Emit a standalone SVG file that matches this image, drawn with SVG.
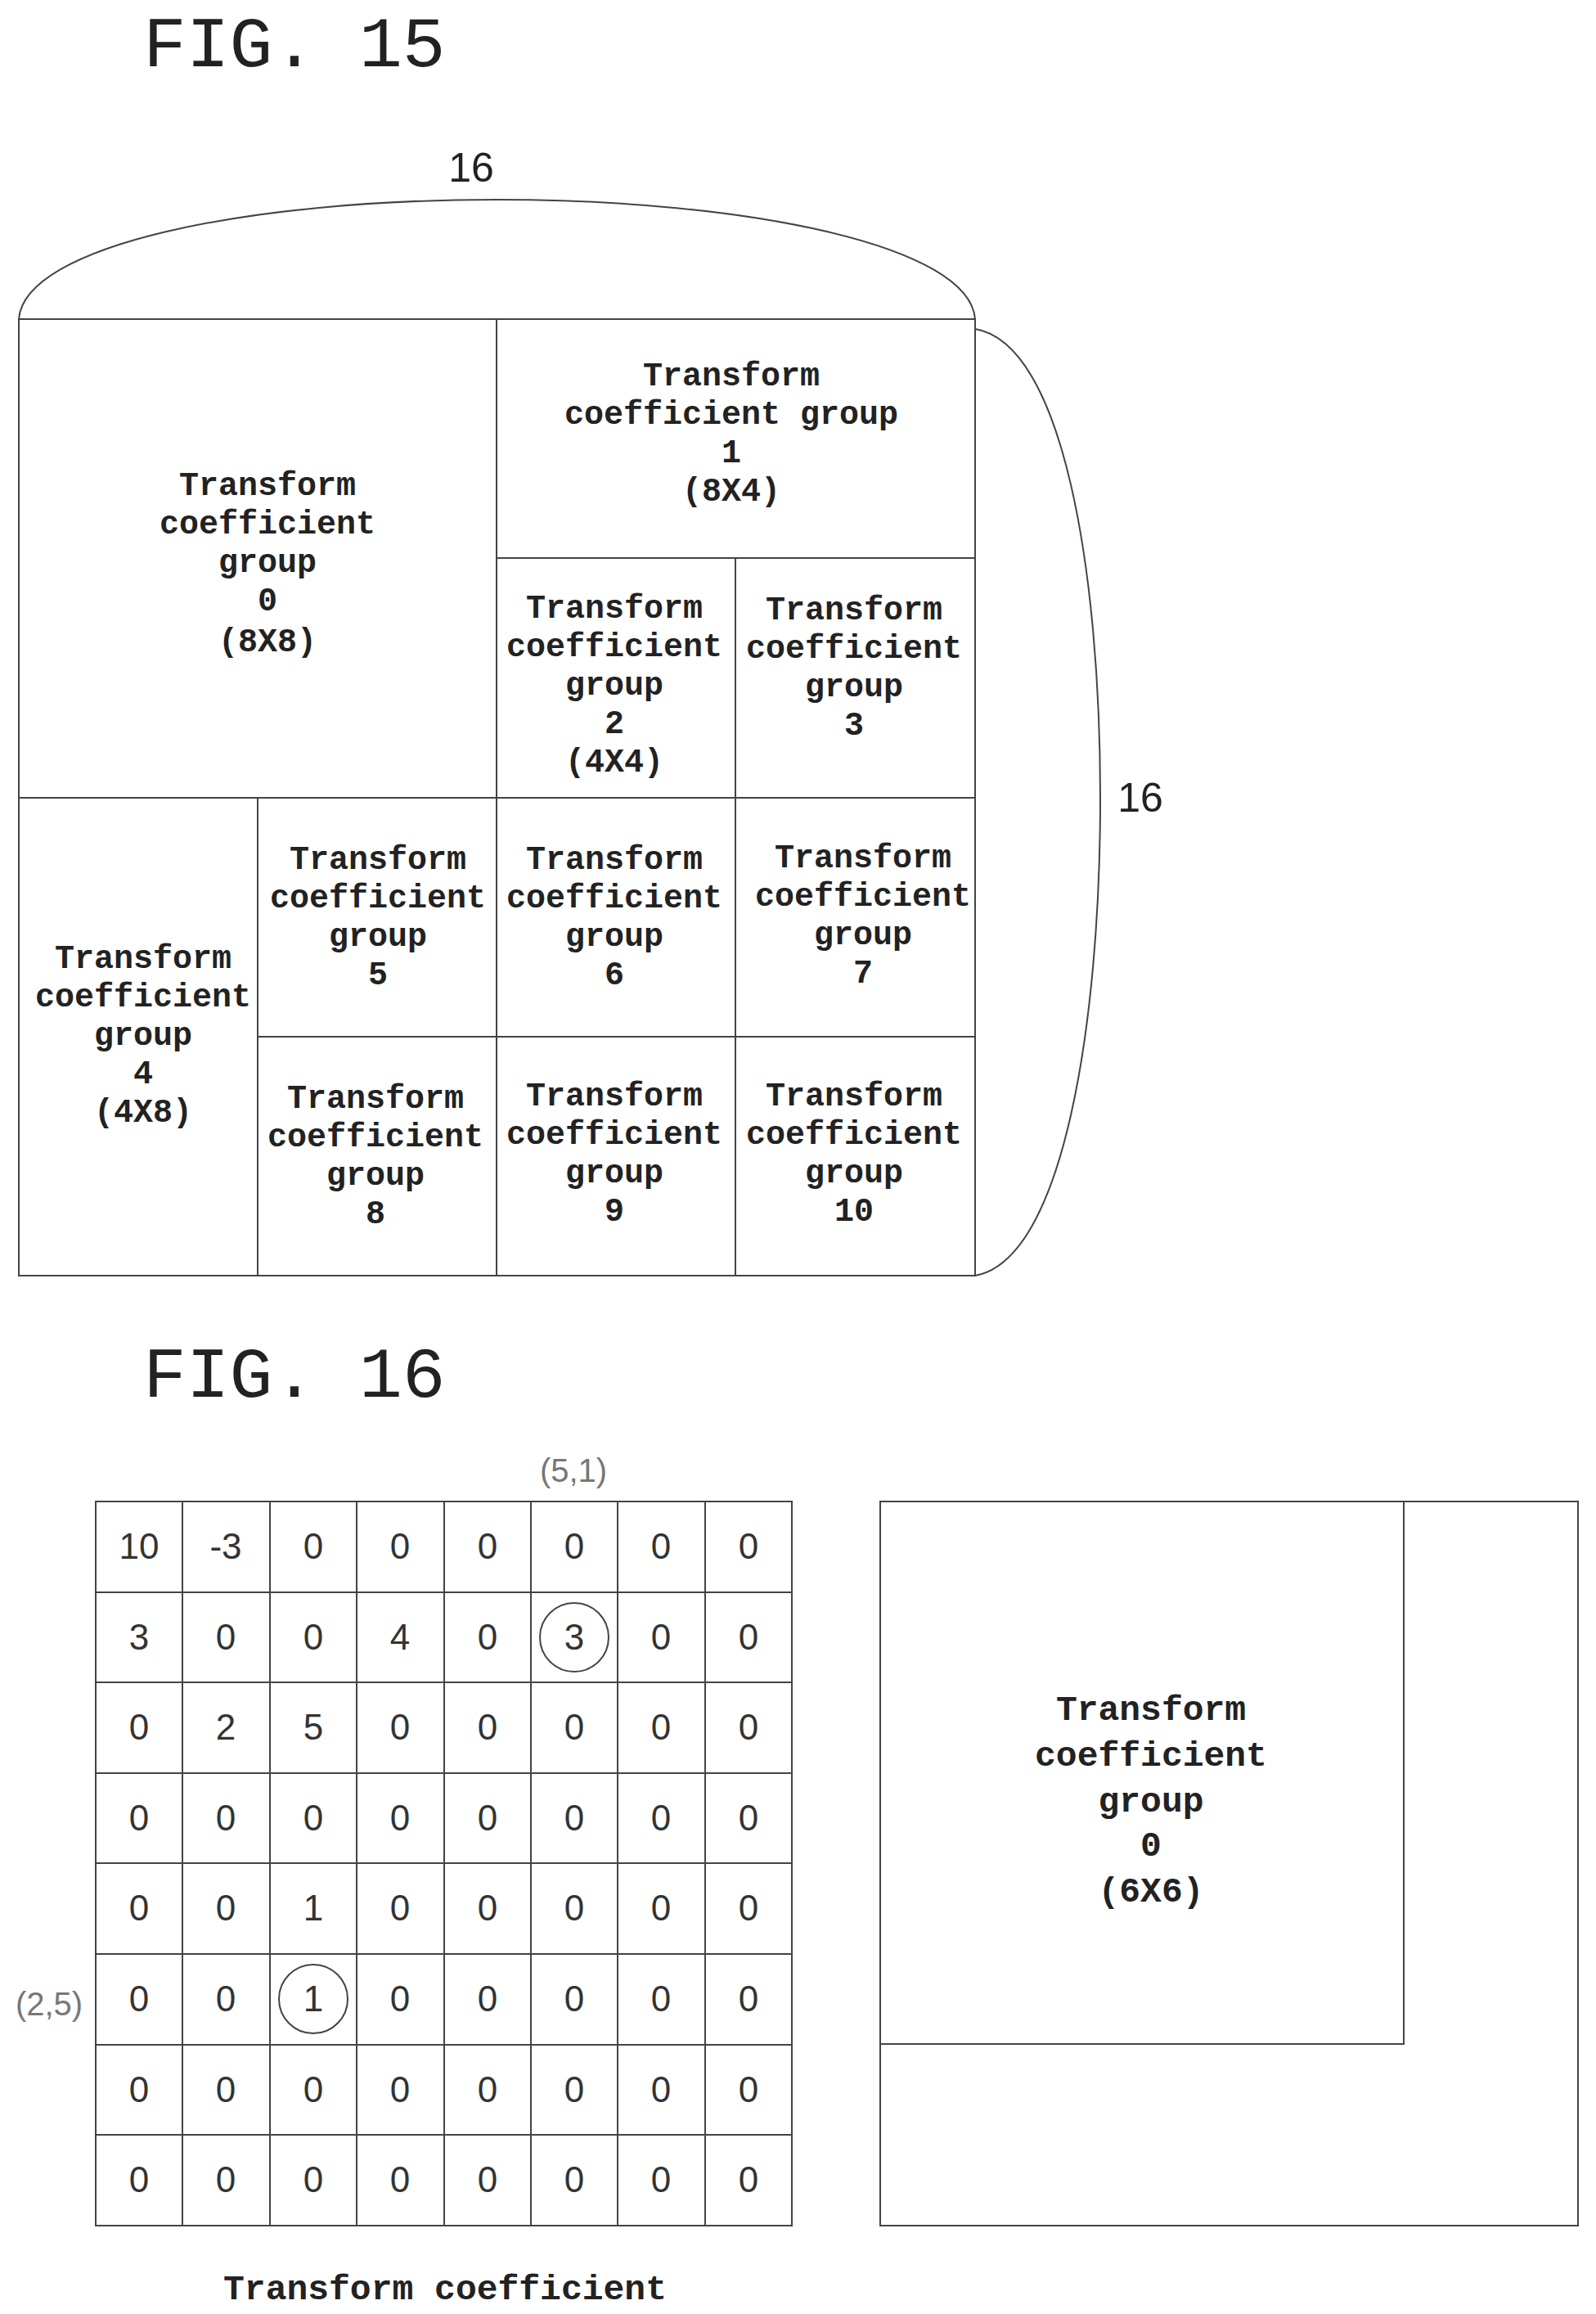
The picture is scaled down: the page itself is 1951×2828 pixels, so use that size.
<svg xmlns="http://www.w3.org/2000/svg" width="1951" height="2828" viewBox="0 0 1951 2828">
<style>
.bg{fill:#fff}
.ln{fill:none;stroke:#444;stroke-width:2}
.fig{font-family:"Liberation Mono",monospace;font-size:88px;fill:#222}
.t{font-family:"Liberation Mono",monospace;font-weight:bold;font-size:40px;fill:#222;text-anchor:middle}
.t2{font-family:"Liberation Mono",monospace;font-weight:bold;font-size:43px;fill:#222;text-anchor:middle}
.n{font-family:"Liberation Sans",sans-serif;font-size:44px;fill:#333;text-anchor:middle}
.lb{font-family:"Liberation Sans",sans-serif;font-size:40px;fill:#777;text-anchor:middle}
.dim{font-family:"Liberation Sans",sans-serif;font-size:50px;fill:#222;text-anchor:middle}
</style>
<rect class="bg" width="1951" height="2828"/>
<text class="fig" x="175" y="81">FIG. 15</text>
<g id="connectors">
<path class="ln" d="M23 390 C30 300, 300 244, 607 244 C914 244, 1185 300, 1192 390"/>
<path class="ln" d="M1192 402 C1300 420, 1345 700, 1345 975 C1345 1250, 1300 1540, 1192 1559"/>
</g>
<text class="dim" x="576" y="222">16</text>
<text class="dim" x="1394" y="992">16</text>
<g id="g0"><rect class="ln" x="23" y="390" width="584" height="585"/>
<text class="t" x="327"><tspan x="327" y="605">Transform</tspan><tspan x="327" y="652">coefficient</tspan><tspan x="327" y="699">group</tspan><tspan x="327" y="746">0</tspan><tspan x="327" y="796">(8X8)</tspan></text></g>
<g id="g1"><rect class="ln" x="607" y="390" width="585" height="292"/>
<text class="t"><tspan x="894" y="471">Transform</tspan><tspan x="894" y="518">coefficient group</tspan><tspan x="894" y="565">1</tspan><tspan x="894" y="612">(8X4)</tspan></text></g>
<g id="g2"><rect class="ln" x="607" y="682" width="292" height="293"/>
<text class="t"><tspan x="751" y="755">Transform</tspan><tspan x="751" y="802">coefficient</tspan><tspan x="751" y="849">group</tspan><tspan x="751" y="896">2</tspan><tspan x="751" y="943">(4X4)</tspan></text></g>
<g id="g3"><rect class="ln" x="899" y="682" width="293" height="293"/>
<text class="t"><tspan x="1044" y="757">Transform</tspan><tspan x="1044" y="804">coefficient</tspan><tspan x="1044" y="851">group</tspan><tspan x="1044" y="898">3</tspan></text></g>
<g id="g4"><rect class="ln" x="23" y="975" width="292" height="584"/>
<text class="t"><tspan x="175" y="1183">Transform</tspan><tspan x="175" y="1230">coefficient</tspan><tspan x="175" y="1277">group</tspan><tspan x="175" y="1324">4</tspan><tspan x="175" y="1371">(4X8)</tspan></text></g>
<g id="g5"><rect class="ln" x="315" y="975" width="292" height="292"/>
<text class="t"><tspan x="462" y="1062">Transform</tspan><tspan x="462" y="1109">coefficient</tspan><tspan x="462" y="1156">group</tspan><tspan x="462" y="1203">5</tspan></text></g>
<g id="g6"><rect class="ln" x="607" y="975" width="292" height="292"/>
<text class="t"><tspan x="751" y="1062">Transform</tspan><tspan x="751" y="1109">coefficient</tspan><tspan x="751" y="1156">group</tspan><tspan x="751" y="1203">6</tspan></text></g>
<g id="g7"><rect class="ln" x="899" y="975" width="293" height="292"/>
<text class="t"><tspan x="1055" y="1060">Transform</tspan><tspan x="1055" y="1107">coefficient</tspan><tspan x="1055" y="1154">group</tspan><tspan x="1055" y="1201">7</tspan></text></g>
<g id="g8"><rect class="ln" x="315" y="1267" width="292" height="292"/>
<text class="t"><tspan x="459" y="1354">Transform</tspan><tspan x="459" y="1401">coefficient</tspan><tspan x="459" y="1448">group</tspan><tspan x="459" y="1495">8</tspan></text></g>
<g id="g9"><rect class="ln" x="607" y="1267" width="292" height="292"/>
<text class="t"><tspan x="751" y="1351">Transform</tspan><tspan x="751" y="1398">coefficient</tspan><tspan x="751" y="1445">group</tspan><tspan x="751" y="1492">9</tspan></text></g>
<g id="g10"><rect class="ln" x="899" y="1267" width="293" height="292"/>
<text class="t"><tspan x="1044" y="1351">Transform</tspan><tspan x="1044" y="1398">coefficient</tspan><tspan x="1044" y="1445">group</tspan><tspan x="1044" y="1492">10</tspan></text></g>

<text class="fig" x="175" y="1707">FIG. 16</text>
<g id="matrix">
<rect class="ln" x="117" y="1835" width="851" height="885"/>
<path class="ln" d="M223 1835V2720M330 1835V2720M436 1835V2720M543 1835V2720M649 1835V2720M755 1835V2720M862 1835V2720M117 1946H968M117 2056H968M117 2167H968M117 2277H968M117 2388H968M117 2499H968M117 2609H968"/>
<g class="n">
<text x="170" y="1905">10</text><text x="276" y="1905">-3</text><text x="383" y="1905">0</text><text x="489" y="1905">0</text><text x="596" y="1905">0</text><text x="702" y="1905">0</text><text x="808" y="1905">0</text><text x="915" y="1905">0</text>
<text x="170" y="2016">3</text><text x="276" y="2016">0</text><text x="383" y="2016">0</text><text x="489" y="2016">4</text><text x="596" y="2016">0</text><text x="702" y="2016">3</text><text x="808" y="2016">0</text><text x="915" y="2016">0</text>
<text x="170" y="2126">0</text><text x="276" y="2126">2</text><text x="383" y="2126">5</text><text x="489" y="2126">0</text><text x="596" y="2126">0</text><text x="702" y="2126">0</text><text x="808" y="2126">0</text><text x="915" y="2126">0</text>
<text x="170" y="2237">0</text><text x="276" y="2237">0</text><text x="383" y="2237">0</text><text x="489" y="2237">0</text><text x="596" y="2237">0</text><text x="702" y="2237">0</text><text x="808" y="2237">0</text><text x="915" y="2237">0</text>
<text x="170" y="2347">0</text><text x="276" y="2347">0</text><text x="383" y="2347">1</text><text x="489" y="2347">0</text><text x="596" y="2347">0</text><text x="702" y="2347">0</text><text x="808" y="2347">0</text><text x="915" y="2347">0</text>
<text x="170" y="2458">0</text><text x="276" y="2458">0</text><text x="383" y="2458">1</text><text x="489" y="2458">0</text><text x="596" y="2458">0</text><text x="702" y="2458">0</text><text x="808" y="2458">0</text><text x="915" y="2458">0</text>
<text x="170" y="2569">0</text><text x="276" y="2569">0</text><text x="383" y="2569">0</text><text x="489" y="2569">0</text><text x="596" y="2569">0</text><text x="702" y="2569">0</text><text x="808" y="2569">0</text><text x="915" y="2569">0</text>
<text x="170" y="2679">0</text><text x="276" y="2679">0</text><text x="383" y="2679">0</text><text x="489" y="2679">0</text><text x="596" y="2679">0</text><text x="702" y="2679">0</text><text x="808" y="2679">0</text><text x="915" y="2679">0</text>
</g>
<circle class="ln" cx="702" cy="2001" r="42"/>
<circle class="ln" cx="383" cy="2443" r="42"/>
<text class="lb" x="701" y="1811">(5,1)</text>
<text class="lb" x="60" y="2463">(2,5)</text>
</g>
<text class="t2" x="544" y="2810">Transform coefficient</text>
<g id="right">
<rect class="ln" x="1076" y="1835" width="853" height="885"/>
<rect class="ln" x="1076" y="1835" width="640" height="663"/>
<text class="t2"><tspan x="1407" y="2102">Transform</tspan><tspan x="1407" y="2158">coefficient</tspan><tspan x="1407" y="2214">group</tspan><tspan x="1407" y="2268">0</tspan><tspan x="1407" y="2324">(6X6)</tspan></text>
</g>
</svg>
